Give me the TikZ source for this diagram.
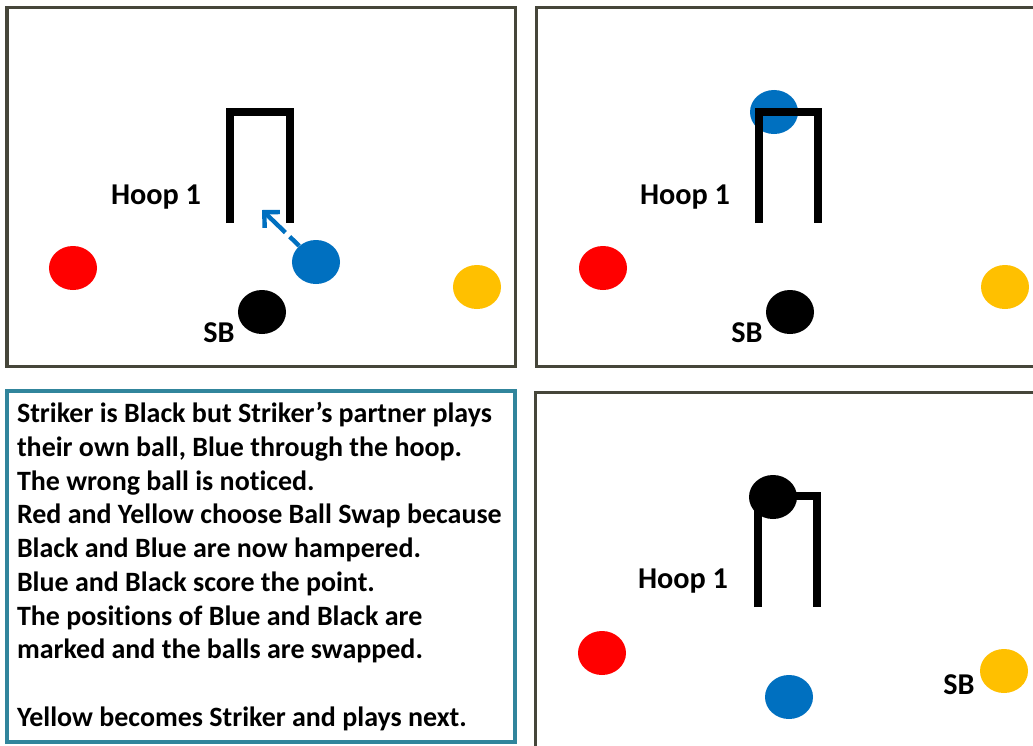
\documentclass[tikz,border=0pt]{standalone}
\usepackage{fontspec}
\setmainfont{Carlito}[Ligatures=NoCommon]
\usetikzlibrary{shapes.geometric,arrows.meta}

\definecolor{ballred}{HTML}{FF0000}
\definecolor{ballblue}{HTML}{0070C0}
\definecolor{ballyellow}{HTML}{FFC000}
\definecolor{panelgrey}{HTML}{46463A}
\definecolor{storyteal}{HTML}{31859C}

\begin{document}
\begin{tikzpicture}[
    x=0.025cm, y=-0.025cm,
    panel/.style={draw=panelgrey, line width=0.075cm},
    hoop/.style={line width=0.2cm, line join=miter},
    croquet/.style={ellipse, minimum width=1.2cm, minimum height=1.1cm, inner sep=0pt},
    redball/.style={croquet, fill=ballred},
    blueball/.style={croquet, fill=ballblue},
    yellowball/.style={croquet, fill=ballyellow},
    blackball/.style={croquet, fill=black},
    boldlabel/.style={font=\fontsize{21.5}{26}\selectfont\bfseries, inner sep=0pt},
    storybox/.style={rectangle, draw=storyteal, line width=0.09cm, minimum width=12.7cm, minimum height=8.775cm, inner sep=0pt},
    storytext/.style={align=left, inner sep=0pt, font=\fontsize{19.9}{24}\selectfont\bfseries},
    shot/.style={draw=ballblue, line width=0.11cm, dash pattern=on 0.33cm off 0.15cm on 1cm off 0.15cm, -{Straight Barb[length=0.28cm, width=0.55cm]}}
]

\useasboundingbox (0,0) rectangle (1033,745);
\clip (0,0) rectangle (1033,745);
\fill[white] (0,0) rectangle (1033,745);

% Panels
\draw[panel] (7,7) rectangle (515,366);
\draw[panel] (536,7) rectangle (1070,366);
\draw[panel] (535,392) rectangle (1070,780);

% Top left: the partner plays Blue
\draw[hoop] (230,223) -- (230,112) -- (290,112) -- (290,223);
\node[boldlabel] (tlhoop) at (156,197) {Hoop 1};
\node[redball] (tlred) at (73,268) {};
\node[blueball] (tlblue) at (316,262) {};
\node[yellowball] (tlyellow) at (477,287) {};
\node[blackball] (tlblack) at (262,312) {};
\node[boldlabel] (tlsb) at (219,333) {SB};
\coordinate (tlaim) at (262,210);
\draw[shot] (tlblue) -- (tlaim);

% Top right: Blue runs the hoop
\node[blueball] (trblue) at (774,112) {};
\draw[hoop] (759,223) -- (759,112) -- (818,112) -- (818,223);
\node[boldlabel] (trhoop) at (685,197) {Hoop 1};
\node[redball] (trred) at (603,268) {};
\node[yellowball] (tryellow) at (1005,287) {};
\node[blackball] (trblack) at (790,312) {};
\node[boldlabel] (trsb) at (747,333) {SB};

% Bottom right: after the swap
\draw[hoop] (758,607) -- (758,496) -- (817,496) -- (817,607);
\node[blackball] (brblack) at (773,497) {};
\node[boldlabel] (brhoop) at (683,581) {Hoop 1};
\node[redball] (brred) at (602,653) {};
\node[blueball] (brblue) at (789,697) {};
\node[yellowball] (bryellow) at (1004,671) {};
\node[boldlabel] (brsb) at (959,685) {SB};

% Story
\node[storybox] (storybox) at (261,566.5) {};
\node[storytext, anchor=west] (story) at ([xshift=0.29cm]storybox.west) {Striker is Black but Striker’s partner plays\\
their own ball, Blue through the hoop.\\
The wrong ball is noticed.\\
Red and Yellow choose Ball Swap because\\
Black and Blue are now hampered.\\
Blue and Black score the point.\\
The positions of Blue and Black are\\
marked and the balls are swapped.\\[0.84cm]
Yellow becomes Striker and plays next.};

\end{tikzpicture}
\end{document}
